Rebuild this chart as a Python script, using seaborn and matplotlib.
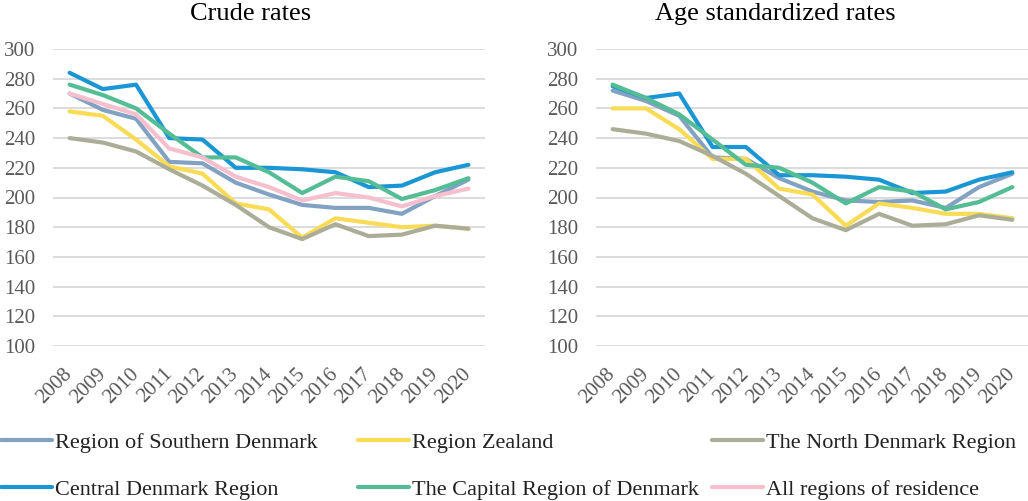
import matplotlib
matplotlib.use("Agg")
import matplotlib.pyplot as plt
import seaborn as sns
import pandas as pd
from matplotlib.lines import Line2D

years = ["2008", "2009", "2010", "2011", "2012", "2013", "2014",
         "2015", "2016", "2017", "2018", "2019", "2020"]

series_names = ["Region of Southern Denmark", "Region Zealand", "The North Denmark Region",
                "Central Denmark Region", "The Capital Region of Denmark", "All regions of residence"]

crude_southern = [270, 259, 253, 224, 223, 210, 202, 195, 193, 193, 189, 201, 212]
crude_zealand = [258, 255, 239, 221, 216, 196, 192, 173, 186, 183, 180, 181, 179]
crude_north = [240, 237, 231, 219, 208, 195, 180, 172, 182, 174, 175, 181, 179]
crude_central = [284, 273, 276, 240, 239, 220, 220, 219, 217, 207, 208, 217, 222]
crude_capital = [276, 269, 260, 243, 227, 227, 217, 203, 214, 211, 199, 205, 213]
crude_all = [270, 263, 256, 233, 227, 214, 207, 198, 203, 200, 194, 201, 206]

age_southern = [272, 265, 255, 227, 226, 213, 204, 198, 197, 198, 193, 207, 216]
age_zealand = [260, 260, 246, 226, 226, 206, 202, 181, 196, 193, 189, 189, 186]
age_north = [246, 243, 238, 228, 216, 201, 186, 178, 189, 181, 182, 188, 185]
age_central = [275, 267, 270, 234, 234, 215, 215, 214, 212, 203, 204, 212, 217]
age_capital = [276, 267, 256, 239, 222, 220, 210, 196, 207, 204, 192, 197, 207]

colors = ["#82A2C3", "#F9DB55", "#ABAD98", "#1A96D5", "#54BD95", "#F6BFCD"]
palette = dict(zip(series_names, colors))

y_ticks = [100, 120, 140, 160, 180, 200, 220, 240, 260, 280, 300]

crude = {series_names[0]: crude_southern, series_names[1]: crude_zealand,
         series_names[2]: crude_north, series_names[3]: crude_central,
         series_names[4]: crude_capital, series_names[5]: crude_all}
age = {series_names[0]: age_southern, series_names[1]: age_zealand,
       series_names[2]: age_north, series_names[3]: age_central,
       series_names[4]: age_capital}


def to_long(d):
    rows = []
    for name, vals in d.items():
        for i, (yr, v) in enumerate(zip(years, vals)):
            rows.append({"idx": i, "year": yr, "series": name, "value": v})
    return pd.DataFrame(rows)


sns.set_style("white")
plt.rcParams["font.family"] = ["Liberation Serif", "DejaVu Serif"]

W, H = 1028, 501
fig = plt.figure(figsize=(W / 100, H / 100), dpi=100)

def px_axes(left, top, right, bottom):
    return fig.add_axes([left / W, 1 - bottom / H, (right - left) / W, (bottom - top) / H])

ax1 = px_axes(53, 49, 485, 346)
ax2 = px_axes(596, 49, 1029, 346)

for ax, d in [(ax1, crude), (ax2, age)]:
    df = to_long(d)
    order = [n for n in series_names if n in d]
    sns.lineplot(data=df, x="idx", y="value", hue="series", hue_order=order,
                 palette=palette, linewidth=3.0, ax=ax, legend=False,
                 solid_capstyle="round", solid_joinstyle="round")
    ax.set_xlim(-0.5, len(years) - 0.5)
    ax.set_ylim(100, 300)
    ax.set_yticks(y_ticks)
    ax.set_xticks(range(len(years)))
    ax.set_xticklabels(years, rotation=45, ha="right", va="center",
                       rotation_mode="anchor")
    ax.tick_params(axis="y", length=0, pad=13, labelsize=15, labelcolor="#595959")
    ax.tick_params(axis="x", length=0, pad=18, labelsize=15, labelcolor="#595959")
    ax.grid(axis="y", color="#D9D9D9", linewidth=1.3)
    ax.set_axisbelow(True)
    for s in ax.spines.values():
        s.set_visible(False)
    ax.set_xlabel("")
    ax.set_ylabel("")

fig.text(251 / W, 1 - 14 / H, "Crude rates", ha="center", va="center",
         fontsize=19, color="black")
fig.text(775 / W, 1 - 14 / H, "Age standardized rates", ha="center", va="center",
         fontsize=19, color="black")

# legend: three columns of two entries
cols = [(1, [0, 3]), (358, [1, 4]), (712, [2, 5])]
for x0, idxs in cols:
    handles = [Line2D([0], [0], color=colors[i], lw=3.0, solid_capstyle="round") for i in idxs]
    labels = [series_names[i] for i in idxs]
    leg = fig.legend(handles, labels, loc="upper left",
                     bbox_to_anchor=(x0 / W, 1 - 432 / H), frameon=False,
                     fontsize=16, handlelength=2.3, handletextpad=0.15,
                     labelspacing=1.2, borderpad=0, borderaxespad=0,
                     labelcolor="#222222")

fig.savefig("out.png", dpi=100)
